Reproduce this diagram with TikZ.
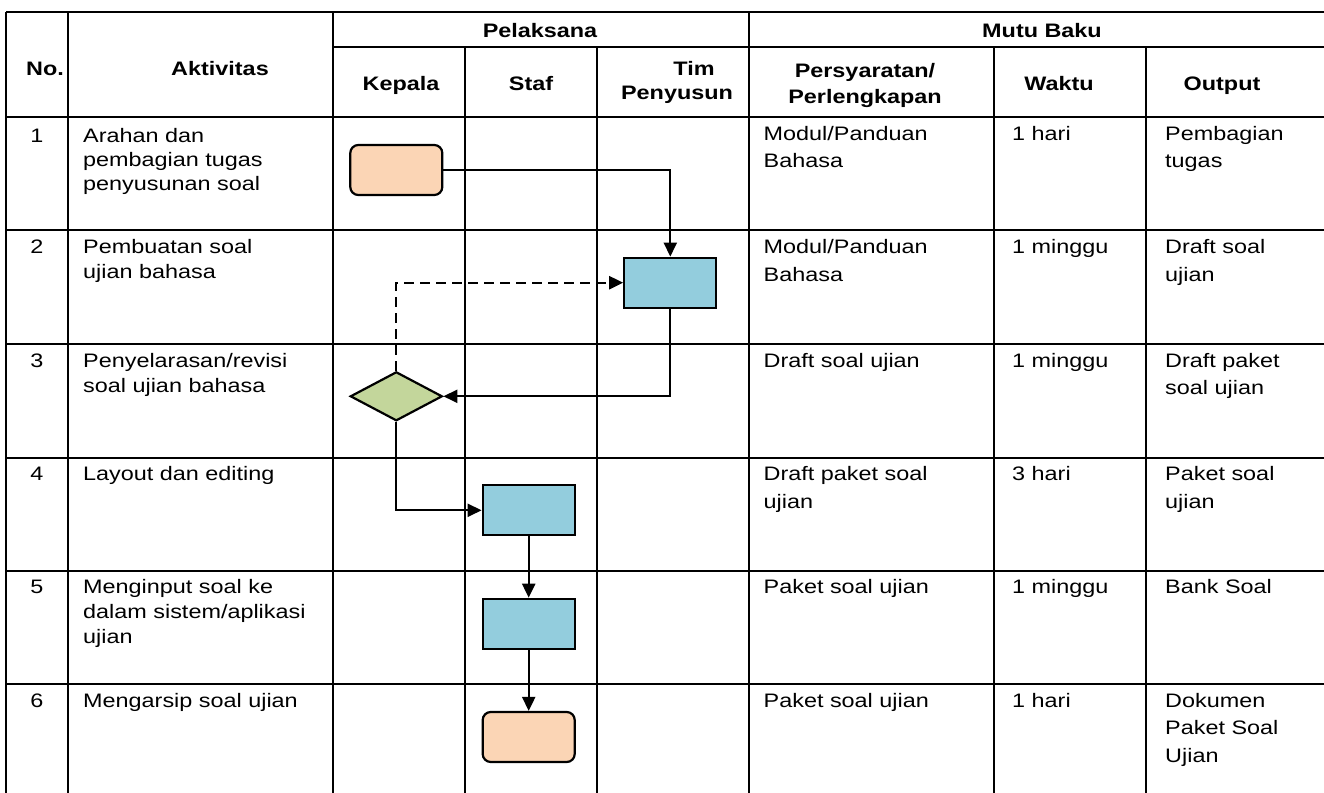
\documentclass[tikz,border=0pt]{standalone}
\usepackage{fontspec}
\setmainfont{Liberation Sans}[FakeStretch=1.2]
\usetikzlibrary{arrows.meta,shapes.geometric}
\definecolor{peach}{HTML}{FBD5B5}
\definecolor{aqua}{HTML}{93CDDD}
\definecolor{olive}{HTML}{C3D69B}
% stacked lines whose baseline is the first line
\newcommand{\celltext}[1]{\begin{tabular}[t]{@{}l@{}}#1\end{tabular}}
\begin{document}
\begin{tikzpicture}[x=1pt,y=-1pt,
  grid/.style={line width=2pt},
  hdr/.style={anchor=base, inner sep=0, font=\fontsize{19.5}{24}\selectfont\bfseries},
  lcell/.style={anchor=base west, inner sep=0, font=\fontsize{19.5}{25}\selectfont},
  rcell/.style={anchor=base west, inner sep=0, font=\fontsize{19.5}{27.5}\selectfont},
  num/.style={anchor=base, inner sep=0, font=\fontsize{19.5}{25}\selectfont},
  procbox/.style={draw, line width=2.2pt, fill=aqua, minimum width=92pt, minimum height=50pt, inner sep=0},
  termbox/.style={draw, line width=2.2pt, fill=peach, rounded corners=8pt, minimum width=92pt, minimum height=50pt, inner sep=0},
  decbox/.style={draw, line width=2.2pt, fill=olive, diamond, minimum width=92pt, minimum height=49pt, inner sep=0},
  arr/.style={line width=2.2pt, -{Triangle[length=14pt,width=13pt]}},
  fb/.style={arr, dash pattern=on 10pt off 6pt}]
\useasboundingbox (0,0) rectangle (1324,792);
\clip (0,0) rectangle (1324,792);

% table rules
\draw[grid] (6,11.7) -- (1340,11.7);
\draw[grid] (333,46.7) -- (1340,46.7);
\foreach \y in {117,230,344,457.7,571,684}
  \draw[grid] (6,\y) -- (1340,\y);
\foreach \x in {6,67.7,333,749}
  \draw[grid] (\x,11.7) -- (\x,800);
\foreach \x in {465,596.7,994,1146}
  \draw[grid] (\x,46.7) -- (\x,800);

% header
\node[hdr] (hNo) at (45,75) {No.};
\node[hdr] (hAkt) at (220,75) {Aktivitas};
\node[hdr] (hPel) at (540,37.5) {Pelaksana};
\node[hdr] (hMutu) at (1042,37.5) {Mutu Baku};
\node[hdr] (hKep) at (401,90.5) {Kepala};
\node[hdr] (hStaf) at (531,90.5) {Staf};
\node[hdr] (hTim) at (694,75) {Tim};
\node[hdr] (hPen) at (677,99) {Penyusun};
\node[hdr] (hPers) at (865,77.5) {Persyaratan/};
\node[hdr] (hPerl) at (865,103.5) {Perlengkapan};
\node[hdr] (hWak) at (1059,90.5) {Waktu};
\node[hdr] (hOut) at (1222,90.5) {Output};

% row 1
\node[num] (n1) at (37,142.5) {1};
\node[lcell,font=\fontsize{19.5}{24}\selectfont] (a1) at (83,142.5) {\celltext{Arahan dan\\pembagian tugas\\penyusunan soal}};
\node[rcell] (s1) at (763.5,140) {\celltext{Modul/Panduan\\Bahasa}};
\node[rcell] (w1) at (1012,140) {1 hari};
\node[rcell] (o1) at (1165,140) {\celltext{Pembagian\\tugas}};

% row 2
\node[num] (n2) at (37,253.5) {2};
\node[lcell] (a2) at (83,253.5) {\celltext{Pembuatan soal\\ujian bahasa}};
\node[rcell] (s2) at (763.5,253.5) {\celltext{Modul/Panduan\\Bahasa}};
\node[rcell] (w2) at (1012,253.5) {1 minggu};
\node[rcell] (o2) at (1165,253.5) {\celltext{Draft soal\\ujian}};

% row 3
\node[num] (n3) at (37,367) {3};
\node[lcell] (a3) at (83,367) {\celltext{Penyelarasan/revisi\\soal ujian bahasa}};
\node[rcell] (s3) at (763.5,367) {Draft soal ujian};
\node[rcell] (w3) at (1012,367) {1 minggu};
\node[rcell] (o3) at (1165,367) {\celltext{Draft paket\\soal ujian}};

% row 4
\node[num] (n4) at (37,480.5) {4};
\node[lcell] (a4) at (83,480.5) {Layout dan editing};
\node[rcell] (s4) at (763.5,480.5) {\celltext{Draft paket soal\\ujian}};
\node[rcell] (w4) at (1012,480.5) {3 hari};
\node[rcell] (o4) at (1165,480.5) {\celltext{Paket soal\\ujian}};

% row 5
\node[num] (n5) at (37,593.5) {5};
\node[lcell] (a5) at (83,593.5) {\celltext{Menginput soal ke\\dalam sistem/aplikasi\\ujian}};
\node[rcell] (s5) at (763.5,593.5) {Paket soal ujian};
\node[rcell] (w5) at (1012,593.5) {1 minggu};
\node[rcell] (o5) at (1165,593.5) {Bank Soal};

% row 6
\node[num] (n6) at (37,707) {6};
\node[lcell] (a6) at (83,707) {Mengarsip soal ujian};
\node[rcell] (s6) at (763.5,707) {Paket soal ujian};
\node[rcell] (w6) at (1012,707) {1 hari};
\node[rcell] (o6) at (1165,707) {\celltext{Dokumen\\Paket Soal\\Ujian}};

% flow shapes
\node[termbox] (start) at (396.3,170) {};
\node[procbox] (buat) at (670.3,282.7) {};
\node[decbox] (cek) at (396.3,396.3) {};
\node[procbox] (layout) at (528.7,510.3) {};
\node[procbox] (input) at (528.7,623.8) {};
\node[termbox] (arsip) at (528.7,737) {};

% connectors
\draw[arr] (start.east) -| (buat.north);
\draw[arr] (buat.south) |- (cek.east);
\draw[fb] (cek.north) |- (buat.west);
\draw[arr] (cek.south) |- (layout.west);
\draw[arr] (layout.south) -- (input.north);
\draw[arr] (input.south) -- (arsip.north);
\end{tikzpicture}
\end{document}
